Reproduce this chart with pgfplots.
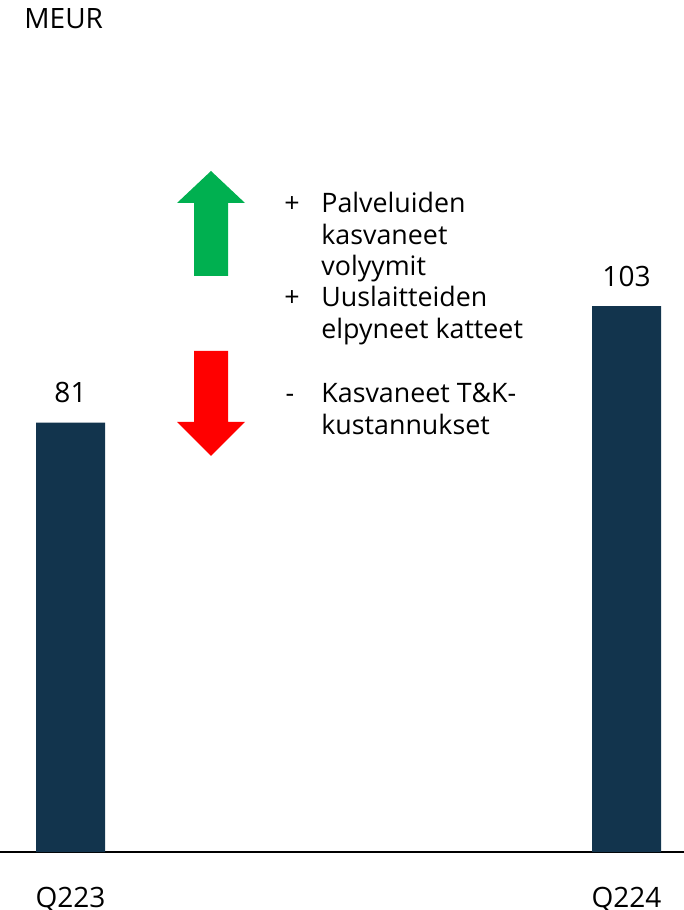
\documentclass[border=0pt]{standalone}
\usepackage{fontspec}
\setmainfont{Open Sans}
\usepackage{pgfplots}
\pgfplotsset{compat=1.18}
\definecolor{barNavy}{HTML}{12344D}
\definecolor{upGreen}{HTML}{00B050}
\definecolor{downRed}{HTML}{FF0000}
\newcommand{\lbl}{\fontsize{13.4}{16}\selectfont}
\newcommand{\biglbl}{\fontsize{14}{17}\selectfont}
\begin{document}
\begin{tikzpicture}
% 1px = 0.5pt; axis spans full width, baseline at y=852px
\begin{axis}[
    scale only axis,
    width=342pt, height=426pt,
    xmin=0, xmax=684,
    ymin=0, ymax=160.75,
    axis x line=bottom,
    axis y line=none,
    axis line style={-, black, line width=0.75pt},
    xtick={70.5,626.5},
    xticklabels={Q223,Q224},
    xtick style={draw=none},
    xticklabel style={anchor=base, yshift=-25.5pt, font=\biglbl},
    ytick=\empty,
    clip=false,
    /pgf/number format/assume math mode=true,
]
\addplot[ybar, bar width=34.5pt, fill=barNavy, draw=none,
    nodes near coords,
    nodes near coords style={anchor=base, yshift=10pt, font=\biglbl, text=black}]
    coordinates {(70.5,81) (626.5,103)};
\end{axis}
\begin{scope}[x=0.5pt, y=-0.5pt, shift={(0,426pt)}]
  \node[anchor=base west, inner sep=0pt, font=\biglbl] at (24,29) {MEUR};
  \fill[upGreen] (194,276) -- (194,203) -- (177,203) -- (211,171) -- (245,203) -- (228,203) -- (228,276) -- cycle;
  \fill[downRed] (194,351) -- (194,422) -- (177,422) -- (211,456) -- (245,422) -- (228,422) -- (228,351) -- cycle;
  \node[anchor=base, inner sep=0pt, font=\lbl] at (292,213) {+};
  \node[anchor=base, inner sep=0pt, font=\lbl] at (292,307) {+};
  \node[anchor=base, inner sep=0pt, font=\lbl] at (290,403) {-};
  \node[anchor=base west, inner sep=0pt, font=\lbl] at (321,213) {Palveluiden};
  \node[anchor=base west, inner sep=0pt, font=\lbl] at (321,244.5) {kasvaneet};
  \node[anchor=base west, inner sep=0pt, font=\lbl] at (321,276) {volyymit};
  \node[anchor=base west, inner sep=0pt, font=\lbl] at (321,307) {Uuslaitteiden};
  \node[anchor=base west, inner sep=0pt, font=\lbl] at (321,338.5) {elpyneet katteet};
  \node[anchor=base west, inner sep=0pt, font=\lbl] at (321,403) {Kasvaneet T\&K-};
  \node[anchor=base west, inner sep=0pt, font=\lbl] at (321,435) {kustannukset};
\end{scope}
\pgfresetboundingbox
\path[use as bounding box] (0,-29pt) rectangle (342pt,426pt);
\end{tikzpicture}
\end{document}
